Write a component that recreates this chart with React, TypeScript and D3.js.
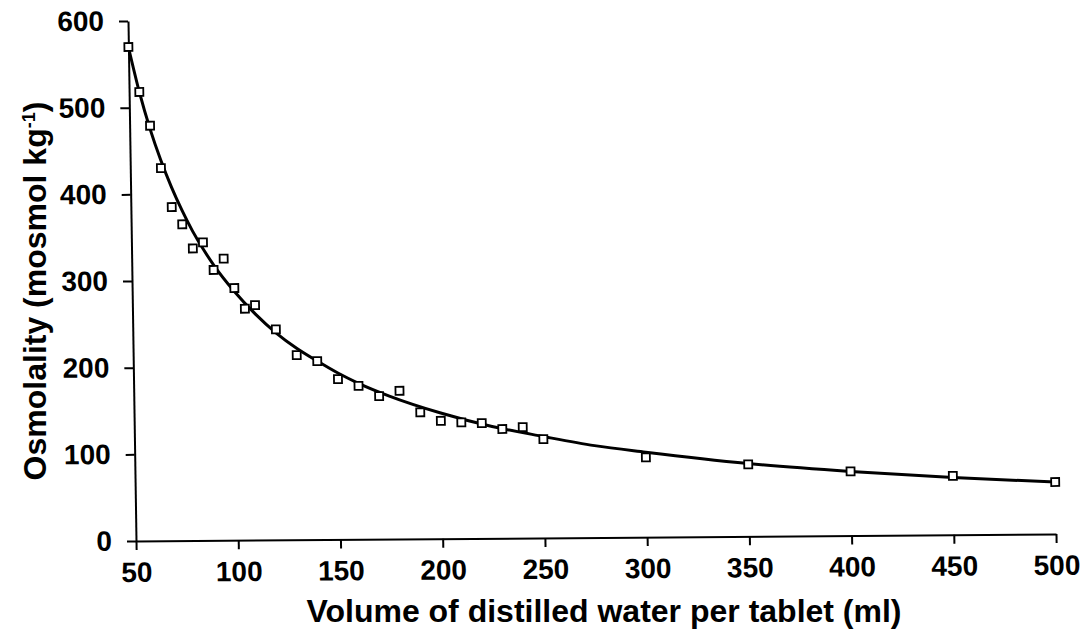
import React, { useEffect, useRef } from "react";
import * as d3 from "d3";

// Measured osmolality of the solution at each volume of distilled water
const volumes = [50, 55, 60, 65, 70, 75, 80, 85, 90, 95, 100, 105, 110, 120, 130, 140, 150, 160, 170, 180, 190, 200, 210, 220, 230, 240, 250, 300, 350, 400, 450, 500];
const osmolality = [570, 518, 479, 430, 385, 365, 337, 344, 312, 325, 291, 267, 271, 243, 213, 206, 185, 177, 165, 171, 146, 136, 134, 133, 126, 128, 114, 92, 83, 74, 68, 60];

// Fitted curve, sampled along its length
const fitVolumes = [50, 55, 60, 65, 70, 75, 80, 90, 100, 110, 120, 130, 140, 150, 160, 175, 200, 225, 250, 275, 300, 350, 400, 450, 500];
const fitOsmolality = [570, 518, 475, 439, 408, 381, 357, 318, 287, 261, 239, 221, 206, 192, 180, 165, 145, 129, 117, 106, 98, 84, 74, 66, 60];

const xTicks = [50, 100, 150, 200, 250, 300, 350, 400, 450, 500];
const yTicks = [0, 100, 200, 300, 400, 500, 600];

const FONT = "'Liberation Sans', Arial, Helvetica, sans-serif";

export default function App() {
  const ref = useRef<SVGSVGElement>(null);

  useEffect(() => {
    const svg = d3.select(ref.current);
    svg.selectAll("*").remove();

    const W = 920;
    const H = 520;
    const x = d3.scaleLinear().domain([50, 500]).range([0, W]);
    const y = d3.scaleLinear().domain([0, 600]).range([H, 0]);

    // plot frame is slightly tilted on the page
    const g = svg.append("g").attr("transform", "matrix(1,-0.0076,0.01538,1,128,21)");

    const xAxis = d3.axisBottom(x).tickValues(xTicks).tickSize(9).tickSizeOuter(0).tickPadding(12).tickFormat(d3.format("d"));
    const yAxis = d3.axisLeft(y).tickValues(yTicks).tickSize(9).tickSizeOuter(0).tickPadding(15).tickFormat(d3.format("d"));

    const gx = g.append("g").attr("transform", `translate(0,${H})`).call(xAxis);
    const gy = g.append("g").call(yAxis);

    [gx, gy].forEach((a) => {
      a.select(".domain").attr("stroke", "#000").attr("stroke-width", 2);
      a.selectAll(".tick line").attr("stroke", "#000").attr("stroke-width", 2);
      a.selectAll(".tick text")
        .attr("fill", "#000")
        .style("font-family", FONT)
        .style("font-weight", "bold")
        .style("font-size", "28px");
    });

    const line = d3
      .line<number>()
      .x((_, i) => x(fitVolumes[i]))
      .y((d) => y(d))
      .curve(d3.curveMonotoneX);

    g.append("path")
      .datum(fitOsmolality)
      .attr("d", line)
      .attr("fill", "none")
      .attr("stroke", "#000")
      .attr("stroke-width", 3);

    const s = 8;
    g.append("g")
      .selectAll("rect")
      .data(osmolality)
      .join("rect")
      .attr("x", (_, i) => x(volumes[i]) - s / 2)
      .attr("y", (d) => y(d) - s / 2)
      .attr("width", s)
      .attr("height", s)
      .attr("fill", "#fff")
      .attr("stroke", "#000")
      .attr("stroke-width", 1.8);

    // axis titles
    svg.append("text")
      .attr("x", 604)
      .attr("y", 622)
      .attr("text-anchor", "middle")
      .style("font-family", FONT)
      .style("font-weight", "bold")
      .style("font-size", "32px")
      .text("Volume of distilled water per tablet (ml)");

    const yt = svg.append("text")
      .attr("transform", "translate(46,291) rotate(-90)")
      .attr("text-anchor", "middle")
      .style("font-family", FONT)
      .style("font-weight", "bold")
      .style("font-size", "32px");
    yt.append("tspan").text("Osmolality (mosmol kg");
    yt.append("tspan").attr("dy", -11).style("font-size", "18px").text("-1");
    yt.append("tspan").attr("dy", 11).text(")");
  }, []);

  return (
    <svg
      ref={ref}
      width={1085}
      height={642}
      style={{ position: "absolute", left: 0, top: 0, background: "#fff" }}
    />
  );
}
